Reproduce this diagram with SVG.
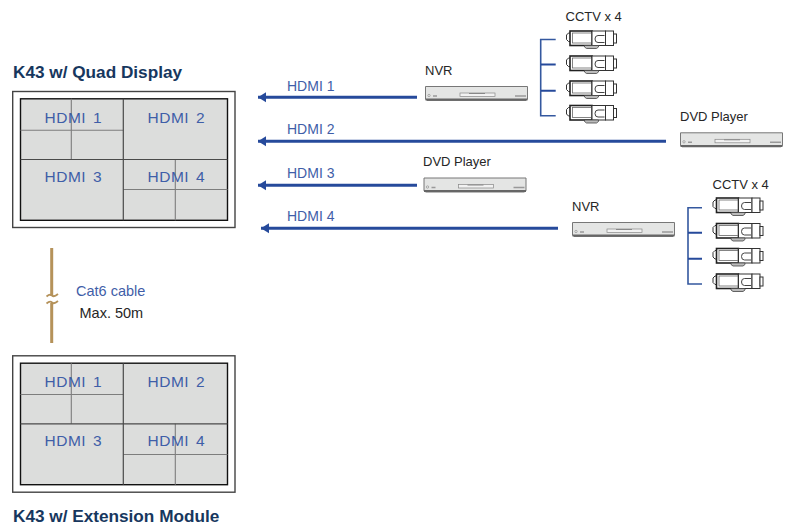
<svg xmlns="http://www.w3.org/2000/svg" width="789" height="524" viewBox="0 0 789 524">
<style>
text{font-family:"Liberation Sans",Arial,sans-serif}
.title{font-size:17.2px;font-weight:700;fill:#17375e}
.lab{font-size:13px;fill:#262626}
.hd{font-size:14px;fill:#3f5ea8}
.scr{font-size:15.5px;letter-spacing:.5px;word-spacing:2px;fill:#3f5ea8}
.outer{fill:#fff;stroke:#444;stroke-width:1.4}
.inner{fill:#dcdddc;stroke:#111;stroke-width:1.4}
.sub{stroke:#7d7d7d;stroke-width:1.1;fill:none}
.mid{stroke:#4a4a4a;stroke-width:1.2;fill:none}
.arrow{stroke:#264a9b;stroke-width:3;fill:none;marker-end:url(#head)}
.br{stroke:#34589f;stroke-width:1.6;fill:none}
.cable{stroke:#b5925a;stroke-width:3;fill:none}
.cam{fill:#fff;stroke:#333;stroke-width:1}
</style>
<defs>
<marker id="head" markerUnits="userSpaceOnUse" markerWidth="9" markerHeight="11" refX="8" refY="5.5" orient="auto"><path d="M0 0.5L8 5.5L0 10.5Z" fill="#264a9b"/></marker>
<g id="box">
<path d="M0.5 0.5H102.5V13L101 14.5H2L0.5 13Z" fill="#e4e5e4" stroke="#777" stroke-width="1"/>
<path d="M0.5 12.6H102.5V14.6H0.5Z" fill="#666"/>
<rect x="35" y="7" width="35" height="3.5" fill="#f2f2f2" stroke="#888" stroke-width=".7"/>
<path d="M44 7.5H60" stroke="#888" stroke-width="1"/>
<circle cx="4" cy="9.5" r="1.2" fill="none" stroke="#888" stroke-width=".6"/>
<path d="M8 10H12M90 10H101" stroke="#999" stroke-width="1.4"/>
</g>
<g id="camera">
<path class="cam" d="M3 2.5H5V11H3L1 9V4.5Z"/>
<rect x="4.5" y="0.5" width="22" height="14.5" fill="#fff" stroke="#222" stroke-width="1.6"/>
<rect x="7" y="2.5" width="19" height="10" fill="#fff" stroke="#666" stroke-width=".8"/>
<rect class="cam" x="26.5" y="0.5" width="13.5" height="14.5"/>
<path d="M39 5H32.5Q29.5 5 29.5 8.5Q29.5 12 32.5 12H39" fill="none" stroke="#444"/>
<rect class="cam" x="40" y="0.5" width="8" height="14.5" stroke-width="1.3"/>
<rect class="cam" x="48" y="3.5" width="3" height="9"/>
<path d="M19 15H33V16.5L31 18H21L19 16.5Z" fill="#bbb" stroke="#444" stroke-width=".8"/>
</g>
</defs>

<g id="display-top">
<text class="title" x="13" y="78">K43 w/ Quad Display</text>
<rect class="outer" x="12.7" y="91.5" width="222.3" height="136"/>
<rect class="inner" x="20.5" y="98.8" width="207" height="121.5"/>
<path class="sub" d="M71.3 98.8V159.5M20.5 130.3H123.3M175.3 159.5V220.3M123.3 189.5H227.5"/>
<path class="mid" d="M123.3 98.8V220.3M20.5 159.5H227.5"/>
<text class="scr" x="44.5" y="123">HDMI 1</text>
<text class="scr" x="147.5" y="123">HDMI 2</text>
<text class="scr" x="44.5" y="182">HDMI 3</text>
<text class="scr" x="147.5" y="182">HDMI 4</text>
</g>

<g id="display-bottom">
<rect class="outer" x="12.7" y="355.8" width="222.3" height="136.4"/>
<rect class="inner" x="20.5" y="363.2" width="207" height="121.5"/>
<path class="sub" d="M71.3 363.2V423.8M20.5 394.5H123.3M175.3 423.8V484.7M123.3 454.5H227.5"/>
<path class="mid" d="M123.3 363.2V484.7M20.5 423.8H227.5"/>
<text class="scr" x="44.5" y="387">HDMI 1</text>
<text class="scr" x="147.5" y="387">HDMI 2</text>
<text class="scr" x="44.5" y="446">HDMI 3</text>
<text class="scr" x="147.5" y="446">HDMI 4</text>
<text class="title" x="13" y="521.5">K43 w/ Extension Module</text>
</g>

<g id="connectors">
<path class="arrow" d="M417 97.3H258"/>
<path class="arrow" d="M666 141.3H258"/>
<path class="arrow" d="M417 185.3H258"/>
<path class="arrow" d="M558 228.3H261"/>
<path class="br" d="M555.7 39.5H540.7V115.7H555.7"/>
<path d="M541 64.5H555.7M541 90.7H555.7" stroke="#264a9b" stroke-width="2" fill="none"/>
<path class="br" d="M702 207.7H688V284H702"/>
<path d="M688 232.7H702M688 258.7H702" stroke="#264a9b" stroke-width="2" fill="none"/>
<text class="hd" x="287" y="91">HDMI 1</text>
<text class="hd" x="287" y="134">HDMI 2</text>
<text class="hd" x="287" y="178">HDMI 3</text>
<text class="hd" x="287" y="221">HDMI 4</text>
</g>

<g id="cable">
<path class="cable" d="M51.7 248V296M51.7 303V343"/>
<path d="M46.5 296.5Q50 293.5 52 295.5T58 294M46.5 303.5Q50 300.5 52 302.5T58 301" stroke="#b5925a" stroke-width="1.8" fill="none"/>
<text x="76" y="296" font-size="14.5" fill="#3f5ea8">Cat6 cable</text>
<text x="79.5" y="318" font-size="14.5" fill="#262626">Max. 50m</text>
</g>

<g id="nvr-1"><text class="lab" x="425" y="75">NVR</text><use href="#box" x="425" y="86"/></g>
<g id="dvd-2"><text class="lab" x="680" y="121">DVD Player</text><use href="#box" x="680" y="132.3"/></g>
<g id="dvd-3"><text class="lab" x="423" y="166">DVD Player</text><use href="#box" x="423.5" y="177.5"/></g>
<g id="nvr-4"><text class="lab" x="572" y="210.5">NVR</text><use href="#box" x="572" y="222"/></g>

<g id="cctv-1">
<text class="lab" x="565.5" y="20.5">CCTV x 4</text>
<use href="#camera" x="565.5" y="30.5"/>
<use href="#camera" x="565.5" y="55.5"/>
<use href="#camera" x="565.5" y="80.5"/>
<use href="#camera" x="565.5" y="105"/>
</g>
<g id="cctv-2">
<text class="lab" x="712.5" y="188.5">CCTV x 4</text>
<use href="#camera" x="712" y="197.5"/>
<use href="#camera" x="712" y="223"/>
<use href="#camera" x="712" y="248"/>
<use href="#camera" x="712" y="273.5"/>
</g>
</svg>
